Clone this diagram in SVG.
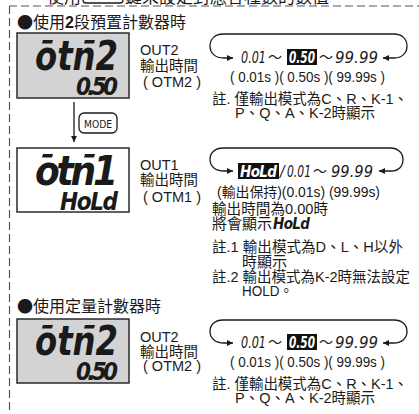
<svg xmlns="http://www.w3.org/2000/svg" width="419" height="414" viewBox="0 0 419 414">
<style>
text{font-family:"Liberation Sans","Noto Sans CJK TC",sans-serif;fill:#1a1a1a}
.t{font-size:14.5px}
.n{font-size:15px}
.h{font-size:16px}
.s{font-size:14px}
.cjk{font-family:"Noto Sans CJK TC",sans-serif}
.lcd{stroke:#2a2a2a;stroke-width:1.5}
.g{fill:#d3d3d3}
.w{fill:#fff}
.seg{font-family:"DejaVu Sans Condensed","DejaVu Sans",sans-serif;font-style:oblique;font-weight:bold;fill:#1a1a1a}
.segn{font-family:"DejaVu Sans Condensed","DejaVu Sans",sans-serif;font-style:oblique;fill:#1a1a1a}
.big{font-size:40px}
.small{font-size:24px}
.v{font-size:15px}
.inv{fill:#fff}
.bar{fill:#1a1a1a}
.dash{fill:none;stroke:#555;stroke-width:1.2;stroke-dasharray:8 4}
.ln{fill:none;stroke:#1a1a1a;stroke-width:1.3}
</style>
<defs>
<marker id="ah" viewBox="0 0 10 10" refX="10" refY="5" markerWidth="7" markerHeight="6" markerUnits="userSpaceOnUse" orient="auto-start-reverse">
<path d="M0,0 L10,5 L0,10 z" fill="#1a1a1a"/>
</marker>
</defs>

<g id="header">
<text x="47" y="3" style="font-size:17px">使用</text>
<rect x="83" y="-12" width="40" height="15" rx="3" fill="none" stroke="#1a1a1a" stroke-width="1.3"/>
<text x="125" y="3" style="font-size:17px">鍵來設定對應各種數的數值</text>
</g>

<g id="frame">
<line class="dash" x1="9" y1="6" x2="419" y2="6"/>
<line class="dash" x1="9.5" y1="6" x2="9.5" y2="414"/>
</g>

<g id="title1"><text class="h" x="17" y="27.5"><tspan class="cjk">●</tspan>使用<tspan font-weight="bold">2</tspan>段預置計數器時</text></g>
<g id="title2"><text class="h" x="17" y="312"><tspan class="cjk">●</tspan>使用定量計數器時</text></g>

<g id="lcd1">
<rect class="lcd g" x="17" y="33" width="112" height="65"/>
<polygon class="bar" points="43,40 53,40 52,43.5 42,43.5"/>
<polygon class="bar" points="85,40 95,40 94,43.5 84,43.5"/>
<text class="seg big" x="35" y="70" textLength="83" lengthAdjust="spacingAndGlyphs">otn2</text>
<text class="seg small" x="76" y="95" textLength="42" lengthAdjust="spacing">0.50</text>
</g>
<g id="label1">
<text class="t" x="140" y="55">OUT2</text>
<text class="t" x="140" y="71">輸出時間</text>
<text class="t" x="143" y="87">( OTM2 )</text>
</g>

<g id="mode">
<rect x="79" y="113" width="38" height="20" rx="5" fill="#fff" stroke="#1a1a1a" stroke-width="1.3"/>
<text x="84" y="128" style="font-family:'DejaVu Sans Condensed','Liberation Sans Narrow',sans-serif;font-size:11px" textLength="28" lengthAdjust="spacingAndGlyphs">MODE</text>
</g>

<g id="lcd2">
<rect class="lcd w" x="17" y="148" width="112" height="64"/>
<polygon class="bar" points="43,154 53,154 52,157.5 42,157.5"/>
<polygon class="bar" points="85,154 95,154 94,157.5 84,157.5"/>
<text class="seg big" x="35" y="185" textLength="83" lengthAdjust="spacing">otn1</text>
<text class="seg small" x="60" y="210" textLength="58" lengthAdjust="spacing">HoLd</text>
</g>
<g id="label2">
<text class="t" x="140" y="170">OUT1</text>
<text class="t" x="140" y="185">輸出時間</text>
<text class="t" x="143" y="202">( OTM1 )</text>
</g>

<g id="lcd3">
<rect class="lcd g" x="17" y="319" width="112" height="64"/>
<polygon class="bar" points="43,325 53,325 52,328.5 42,328.5"/>
<polygon class="bar" points="85,325 95,325 94,328.5 84,328.5"/>
<text class="seg big" x="35" y="355" textLength="83" lengthAdjust="spacingAndGlyphs">otn2</text>
<text class="seg small" x="76" y="380" textLength="42" lengthAdjust="spacing">0.50</text>
</g>
<g id="label3">
<text class="t" x="140" y="342">OUT2</text>
<text class="t" x="140" y="357">輸出時間</text>
<text class="t" x="143" y="371">( OTM2 )</text>
</g>

<g id="connectors">
<line class="ln" x1="74" y1="102" x2="74" y2="142" marker-end="url(#ah)"/>
<path class="ln" d="M383,58 L394,58 C402,58 407,53 407,46 C407,39 402,34 394,34 L223,34 C215,34 210,39 210,46 C210,53 215,58 224,58 L233,58" marker-start="url(#ah)" marker-end="url(#ah)"/>
<path class="ln" d="M379,171 L391,171 C399,171 403,166 403,159.5 C403,153 398,148 390,148 L223,148 C215,148 210,153 210,159.5 C210,166 215,171 224,171 L233,171" marker-start="url(#ah)" marker-end="url(#ah)"/>
<path class="ln" d="M383,343 L394,343 C402,343 407,338 407,331.5 C407,325 402,320 394,320 L223,320 C215,320 210,325 210,331.5 C210,338 215,343 224,343 L233,343" marker-start="url(#ah)" marker-end="url(#ah)"/>
</g>

<g id="range1">
<text class="segn v" x="241" y="63" textLength="25" lengthAdjust="spacingAndGlyphs">0.01</text>
<text x="268" y="62" style="font-size:14px">〜</text>
<rect x="287" y="49" width="30" height="16" fill="#111"/>
<text class="seg inv v" x="289" y="63" textLength="26" lengthAdjust="spacingAndGlyphs">0.50</text>
<text x="319" y="62" style="font-size:14px">〜</text>
<text class="segn v" x="335" y="63" textLength="43" lengthAdjust="spacingAndGlyphs">99.99</text>
<text class="s" x="230" y="82" textLength="155" lengthAdjust="spacingAndGlyphs">( 0.01s )( 0.50s )( 99.99s )</text>
<text class="n" x="212" y="104" textLength="196" lengthAdjust="spacingAndGlyphs">註. 僅輸出模式為C、R、K-1、</text>
<text class="n" x="235" y="118" textLength="140" lengthAdjust="spacingAndGlyphs">P、Q、A、K-2時顯示</text>
</g>

<g id="range2">
<rect x="238" y="163" width="41" height="16" fill="#111"/>
<text class="seg inv v" x="240" y="177" textLength="37" lengthAdjust="spacing">HoLd</text>
<text class="segn v" x="280" y="177">/</text>
<text class="segn v" x="287" y="177" textLength="24" lengthAdjust="spacingAndGlyphs">0.01</text>
<text x="313" y="176" style="font-size:14px">〜</text>
<text class="segn v" x="331" y="177" textLength="42" lengthAdjust="spacingAndGlyphs">99.99</text>
<text class="s" x="217" y="197" textLength="163" lengthAdjust="spacingAndGlyphs">(輸出保持)(0.01s) (99.99s)</text>
<text class="n" x="212" y="214" textLength="116" lengthAdjust="spacingAndGlyphs">輸出時間為0.00時</text>
<text class="n" x="212" y="229">將會顯示</text>
<text class="seg v" x="273" y="229" textLength="37" lengthAdjust="spacing">HoLd</text>
<text class="n" x="212" y="252" textLength="191" lengthAdjust="spacingAndGlyphs">註.1 輸出模式為D、L、H以外</text>
<text class="n" x="242" y="267">時顯示</text>
<text class="n" x="212" y="282" textLength="198" lengthAdjust="spacingAndGlyphs">註.2 輸出模式為K-2時無法設定</text>
<text class="n" x="242" y="296" textLength="51" lengthAdjust="spacingAndGlyphs">HOLD。</text>
</g>

<g id="range3">
<text class="segn v" x="241" y="348" textLength="25" lengthAdjust="spacingAndGlyphs">0.01</text>
<text x="268" y="347" style="font-size:14px">〜</text>
<rect x="287" y="334" width="30" height="16" fill="#111"/>
<text class="seg inv v" x="289" y="348" textLength="26" lengthAdjust="spacingAndGlyphs">0.50</text>
<text x="319" y="347" style="font-size:14px">〜</text>
<text class="segn v" x="335" y="348" textLength="43" lengthAdjust="spacingAndGlyphs">99.99</text>
<text class="s" x="230" y="367" textLength="155" lengthAdjust="spacingAndGlyphs">( 0.01s )( 0.50s )( 99.99s )</text>
<text class="n" x="212" y="389" textLength="196" lengthAdjust="spacingAndGlyphs">註. 僅輸出模式為C、R、K-1、</text>
<text class="n" x="235" y="403" textLength="140" lengthAdjust="spacingAndGlyphs">P、Q、A、K-2時顯示</text>
</g>
</svg>
